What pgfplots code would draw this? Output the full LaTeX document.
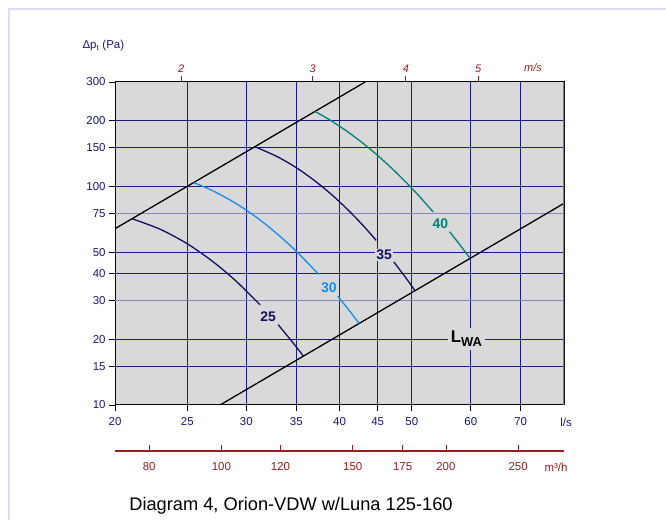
\documentclass[border=0pt]{standalone}
\usepackage{pgfplots}
\pgfplotsset{compat=1.18}
\usepackage{fontspec}
\setmainfont{Liberation Sans}
\definecolor{gridnavy}{RGB}{25,25,140}
\definecolor{gridlight}{RGB}{135,135,190}
\definecolor{bggray}{RGB}{217,217,217}
\definecolor{ticklab}{RGB}{25,25,120}
\definecolor{darkred}{RGB}{150,30,30}
\definecolor{navyc}{RGB}{15,15,100}
\definecolor{bluec}{RGB}{20,140,240}
\definecolor{tealc}{RGB}{0,128,120}
\definecolor{lav}{RGB}{218,222,245}
\begin{document}
\begin{tikzpicture}[x=1bp,y=1bp]
\useasboundingbox (0,0) rectangle (666,520);
\fill[white] (0,0) rectangle (666,520);
\draw[line width=2bp, lav] (9,0) -- (9,511) -- (666,511);

\begin{axis}[
  at={(115bp,115bp)}, anchor=south west, scale only axis,
  width=449bp, height=323bp,
  xmode=log, ymode=log, xmin=20, xmax=80, ymin=10, ymax=300,
  axis background/.style={fill=bggray},
  xtick={20,25,30,35,40,45,50,60,70},
  xticklabels={20,25,30,35,40,45,50,60,70},
  ytick={10,15,20,40,50,100,150,200,300},
  yticklabels={10,15,20,40,50,100,150,200,300},
  extra y ticks={30,75}, extra y tick labels={30,75},
  extra y tick style={major grid style={gridlight, line width=1bp}},
  grid=major, major grid style={gridnavy, line width=1bp},
  tick align=outside, xtick pos=bottom, ytick pos=left,
  major tick length=6bp, tick style={black, line width=0.8bp},
  axis line style={black, line width=1bp},
  ticklabel style={font=\fontsize{11.5}{13}\selectfont, text=ticklab},
  xticklabel style={yshift=-3bp},
  clip=true,
]
% system lines
\addplot[black, line width=1.3bp] coordinates {(20,64) (43.3,300)};
\addplot[black, line width=1.3bp] coordinates {(27.66,10) (80,83.6)};
% 25
\addplot[navyc, line width=1.3bp, smooth] coordinates {(21.1,71) (23,63.6) (25,54.6) (27,45.5) (29,37.1) (31.3,28.7)};
\addplot[navyc, line width=1.3bp, smooth] coordinates {(33.1,23.3) (34.5,19.6) (35.8,16.7)};
% 30
\addplot[bluec, line width=1.3bp, smooth] coordinates {(25.5,104) (27,95.7) (29,83.8) (31,71.9) (33,60.6) (35.1,50) (37.5,39.6)};
\addplot[bluec, line width=1.3bp, smooth] coordinates {(39.8,31.4) (41.2,27.1) (42.5,23.6)};
% 35
\addplot[navyc, line width=1.3bp, smooth] coordinates {(30.8,151.8) (33,136.7) (35,121.7) (37,106.4) (39,91.9) (41,78.4) (43,66.3) (44.8,56.6)};
\addplot[navyc, line width=1.3bp, smooth] coordinates {(47.3,45.1) (49,38.5) (50.5,33.3)};
% 40
\addplot[tealc, line width=1.3bp, smooth] coordinates {(37.1,220) (39,199.2) (41,177.8) (43,157.4) (45,138.4) (47,120.9) (49,105.2) (51,91.2) (53.4,76.4)};
\addplot[tealc, line width=1.3bp, smooth] coordinates {(56.2,62.0) (58,54.0) (59.8,47)};
% right edge gray
\draw[gray, line width=1.5bp] (rel axis cs:1,0) -- (rel axis cs:1,1);
% labels
\node[fill=bggray, inner sep=1.5bp, text=navyc, font=\bfseries\fontsize{14}{14}\selectfont] at (axis cs:32.1,25.4) {25};
\node[fill=bggray, inner sep=1.5bp, text=bluec, font=\bfseries\fontsize{14}{14}\selectfont] at (axis cs:38.7,34.5) {30};
\node[fill=bggray, inner sep=1.5bp, text=navyc, font=\bfseries\fontsize{14}{14}\selectfont] at (axis cs:45.9,48.5) {35};
\node[fill=bggray, inner sep=1.5bp, text=tealc, font=\bfseries\fontsize{14}{14}\selectfont] at (axis cs:54.6,67.3) {40};
\node[fill=bggray, inner sep=3bp, font=\bfseries\fontsize{17}{17}\selectfont] at (axis cs:59.2,20.0) {L\raisebox{-4bp}{\fontsize{13}{13}\selectfont WA}};
\end{axis}

% top m/s axis
\begin{axis}[
  at={(115bp,115bp)}, anchor=south west, scale only axis,
  width=449bp, height=323bp,
  xmode=log, xmin=20, xmax=80, ymin=0, ymax=1,
  axis x line*=top, hide y axis,
  xtick={24.54,36.82,49.09,61.36}, xticklabels={2,3,4,5},
  tick align=outside, major tick length=6bp,
  tick style={darkred, line width=0.8bp},
  axis line style={black, line width=1bp},
  ticklabel style={font=\itshape\fontsize{11}{13}\selectfont, text=darkred},
]
\end{axis}

% bottom m3/h axis
\begin{axis}[
  at={(115bp,69bp)}, anchor=south west, scale only axis,
  width=449bp, height=10bp,
  xmode=log, xmin=20, xmax=80, ymin=0, ymax=1,
  axis x line*=bottom, hide y axis,
  xtick={22.222,27.778,33.333,41.667,48.611,55.556,69.444},
  xticklabels={80,100,120,150,175,200,250},
  tick align=inside, major tick length=6bp,
  tick style={darkred, line width=0.8bp},
  axis line style={darkred, line width=1.2bp},
  ticklabel style={font=\fontsize{11.5}{13}\selectfont, text=darkred, yshift=-8bp},
]
\end{axis}

\node[anchor=west, text=ticklab, font=\fontsize{11.5}{13}\selectfont] at (79,474) {Δp\textsubscript{t} (Pa)};
\node[text=ticklab, font=\fontsize{11.5}{13}\selectfont] at (566,98) {l/s};
\node[text=darkred, font=\itshape\fontsize{11}{13}\selectfont] at (533,452) {m/s};
\node[text=darkred, font=\fontsize{11.5}{13}\selectfont] at (556,53) {m³/h};
\node[font=\fontsize{18.3}{20}\selectfont] at (291,14) {Diagram 4, Orion-VDW w/Luna 125-160};
\end{tikzpicture}
\end{document}
